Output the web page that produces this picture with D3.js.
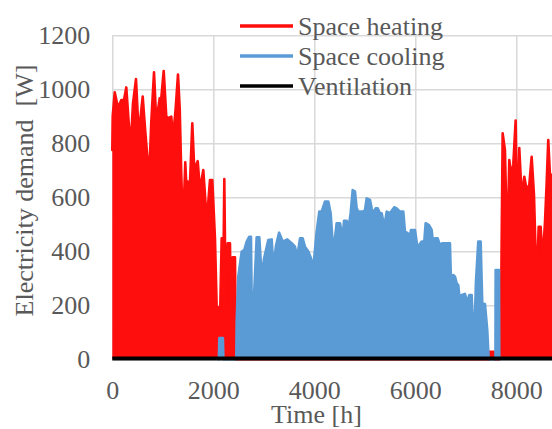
<!DOCTYPE html>
<html>
<head>
<meta charset="utf-8">
<script src="https://cdn.jsdelivr.net/npm/d3@7"></script>
<style>
  body { margin: 0; background: #fff; }
  svg { display: block; }
</style>
</head>
<body>
<svg id="chart" width="552" height="429"></svg>
<script>
// values: [hour, W]
const xTicks = [0, 2000, 4000, 6000, 8000];
const yTicks = [0, 200, 400, 600, 800, 1000, 1200];
const seriesNames = ["Space heating", "Space cooling", "Ventilation"];

const heating = [
  [0,775],[8,900],[48,989],[113,931],[178,960],[232,960],[277,1007],[325,875],[364,788],
  [410,948],[469,1038],[509,886],[554,886],[602,973],[653,843],[707,720],[741,727],[772,880],
  [826,1063],[871,880],[939,967],[970,967],[1018,1068],[1069,899],[1117,893],[1168,899],
  [1202,818],[1255,929],[1301,1055],[1335,929],[1366,683],[1400,479],[1445,730],[1473,615],
  [1493,658],[1538,652],[1584,874],[1624,701],[1691,734],[1736,627],[1802,701],[1849,571],
  [1889,553],[1934,664],[1980,664],[2033,448],[2079,102],[2099,193],[2138,193],[2166,448],
  [2192,183],[2218,668],[2245,183],[2285,430],[2330,430],[2350,153],[2384,378],[2429,378],
  [2449,0],[7463,0],[7469,28],[7558,28],[7564,0],[7663,0],[7667,121],[7696,152],[7730,837],
  [7775,775],[7821,399],[7861,738],[7908,676],[7940,720],[7987,884],[8019,479],[8059,782],
  [8106,602],[8158,676],[8205,627],[8257,646],[8304,750],[8350,609],[8403,257],[8443,491],
  [8482,491],[8522,368],[8567,504],[8601,652],[8633,812],[8666,683],[8700,683],[8760,683]
];

const cooling = [
  [2110,0],[2120,79],[2190,79],[2200,0],[2455,0],[2463,139],[2495,306],[2562,399],[2614,405],
  [2661,436],[2713,454],[2746,454],[2772,10],[2806,232],[2859,452],[2911,452],[2958,303],
  [3004,372],[3089,442],[3156,444],[3188,340],[3241,420],[3303,469],[3374,436],[3465,444],
  [3552,430],[3617,417],[3663,380],[3717,448],[3770,448],[3815,417],[3881,399],[3934,374],
  [3980,337],[4013,405],[4047,473],[4099,547],[4146,547],[4211,584],[4277,584],[4324,541],
  [4364,430],[4390,417],[4443,504],[4509,504],[4562,448],[4588,513],[4641,513],[4673,479],
  [4720,541],[4760,627],[4806,621],[4839,559],[4871,547],[4970,547],[5004,553],[5037,596],
  [5103,590],[5136,559],[5168,541],[5215,559],[5255,559],[5301,541],[5334,541],[5386,491],
  [5434,547],[5499,541],[5544,553],[5584,563],[5631,559],[5696,547],[5762,547],[5795,473],
  [5848,467],[5875,442],[5914,479],[5993,479],[6027,436],[6047,281],[6073,423],[6126,436],
  [6178,436],[6205,504],[6271,497],[6324,479],[6356,423],[6370,294],[6390,448],[6443,448],
  [6488,423],[6534,430],[6686,430],[6706,294],[6752,312],[6786,306],[6819,281],[6851,275],
  [6885,207],[6919,238],[6983,242],[7029,210],[7069,238],[7116,238],[7162,34],[7201,287],
  [7247,436],[7294,436],[7326,207],[7379,205],[7425,108],[7453,0],[7587,0],[7591,331],
  [7657,331],[7663,0]
];

const ventilation = [[0,3],[8760,3]];

const colors = ["#ff0e0e", "#5b9bd5", "#000000"];
const font = "'Liberation Serif', 'Times New Roman', serif";
const textColor = "#595959";

const svg = d3.select("#chart");
const margin = { left: 112.3, top: 35.3, bottom: 359.3 };

const x = d3.scaleLinear()
  .domain([0, 8760])
  .range([margin.left, margin.left + 8760 * 0.0505]);

const y = d3.scaleLinear()
  .domain([0, 1200])
  .range([margin.bottom, margin.top]);

// grid
svg.append("g")
  .attr("transform", `translate(${ margin.left }, 0)`)
  .call(d3.axisLeft(y).tickValues(yTicks).tickSize(-(x(8760) - margin.left)).tickFormat(""))
  .call((g) => g.select(".domain").remove())
  .call((g) => g.selectAll("line").attr("stroke", "#d9d9d9").attr("stroke-width", 1.5));

svg.append("g")
  .attr("transform", `translate(0, ${ margin.bottom })`)
  .call(d3.axisBottom(x).tickValues(xTicks).tickSize(-(margin.bottom - margin.top)).tickFormat(""))
  .call((g) => g.select(".domain").remove())
  .call((g) => g.selectAll("line").attr("stroke", "#d9d9d9").attr("stroke-width", 1.5));

// series
const area = d3.area()
  .x((d) => x(d[0]))
  .y0(y(0))
  .y1((d) => y(d[1]));

const line = d3.line()
  .x((d) => x(d[0]))
  .y((d) => y(d[1]));

[heating, cooling].forEach((data, i) => {
  svg.append("path")
    .datum(data)
    .attr("d", area)
    .attr("fill", colors[i]);

  svg.append("path")
    .datum(data)
    .attr("d", line)
    .attr("fill", "none")
    .attr("stroke", colors[i])
    .attr("stroke-width", 2.6)
    .attr("stroke-linejoin", "round")
    .attr("stroke-linecap", "round");
});

svg.append("path")
  .datum(ventilation)
  .attr("d", line)
  .attr("fill", "none")
  .attr("stroke", colors[2])
  .attr("stroke-width", 4);

// tick labels
svg.append("g")
  .attr("transform", `translate(${ margin.left }, 0)`)
  .call(d3.axisLeft(y).tickValues(yTicks).tickSize(0).tickPadding(22).tickFormat((d) => d))
  .call((g) => g.select(".domain").remove())
  .call((g) => g.selectAll("text")
    .attr("font-family", font)
    .attr("font-size", 26)
    .attr("fill", textColor));

svg.append("g")
  .attr("transform", `translate(0, ${ margin.bottom })`)
  .call(d3.axisBottom(x).tickValues(xTicks).tickSize(0).tickPadding(21).tickFormat((d) => d))
  .call((g) => g.select(".domain").remove())
  .call((g) => g.selectAll("text")
    .attr("font-family", font)
    .attr("font-size", 26)
    .attr("fill", textColor));

// axis titles
svg.append("text")
  .attr("x", 316.5)
  .attr("y", 423)
  .attr("text-anchor", "middle")
  .attr("font-family", font)
  .attr("font-size", 26)
  .attr("fill", textColor)
  .text("Time [h]");

svg.append("text")
  .attr("transform", "translate(33, 190.5) rotate(-90)")
  .attr("text-anchor", "middle")
  .attr("font-family", font)
  .attr("font-size", 26)
  .attr("fill", textColor)
  .style("white-space", "pre")
  .text("Electricity demand  [W]");

// legend
const legend = svg.append("g").attr("transform", "translate(240, 26)");

seriesNames.forEach((name, i) => {
  const row = legend.append("g").attr("transform", `translate(0, ${ i * 30 })`);
  row.append("line")
    .attr("x1", 0).attr("x2", 53)
    .attr("stroke", colors[i])
    .attr("stroke-width", 3.5);
  row.append("text")
    .attr("x", 58)
    .attr("y", 9)
    .attr("font-family", font)
    .attr("font-size", 26)
    .attr("fill", textColor)
    .text(name);
});
</script>
</body>
</html>
